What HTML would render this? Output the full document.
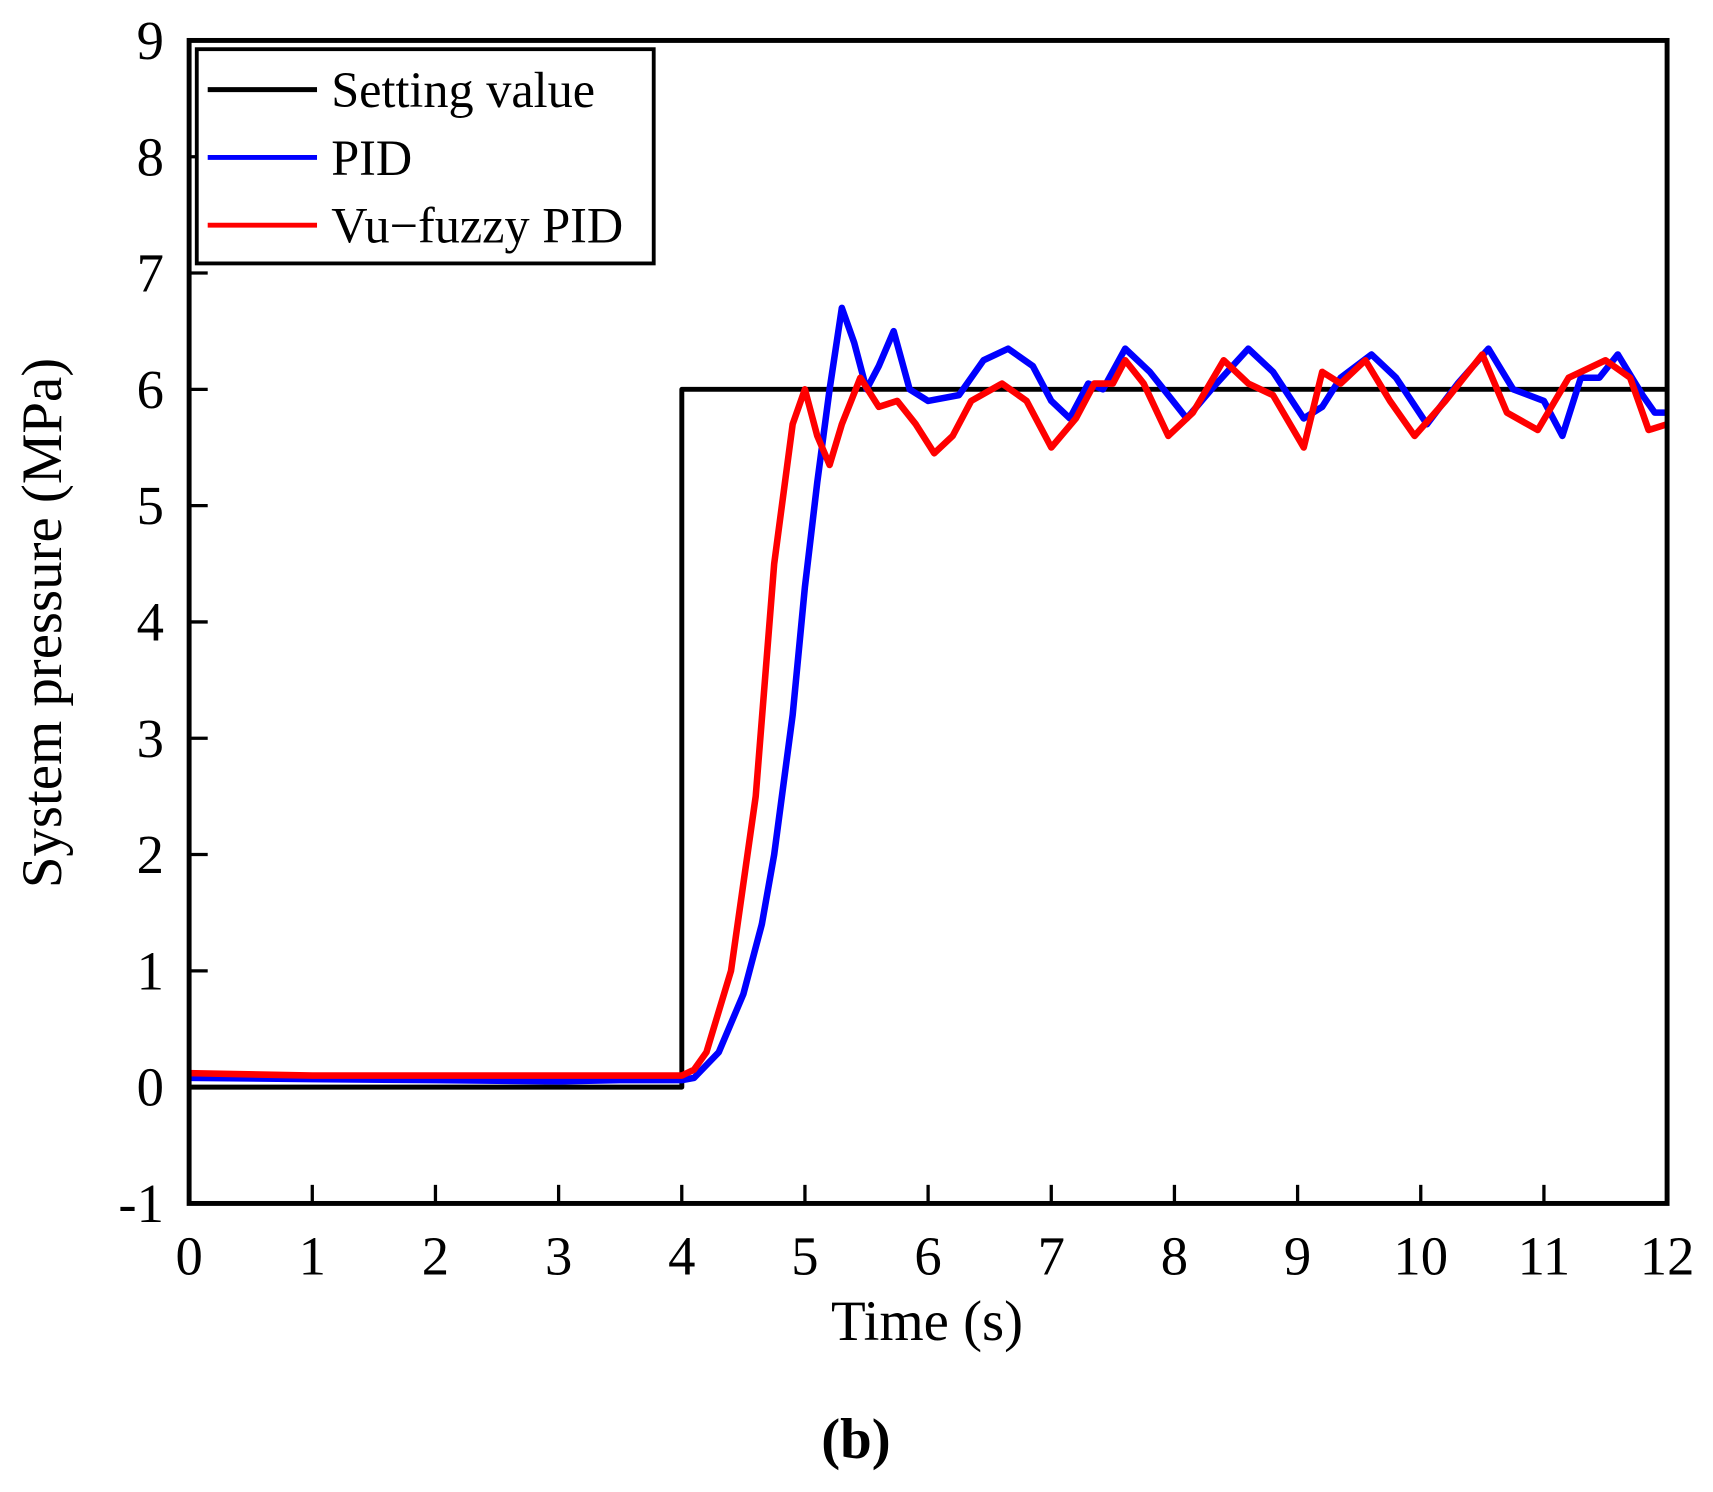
<!DOCTYPE html>
<html><head><meta charset="utf-8"><style>
html,body{margin:0;padding:0;background:#fff;}
svg{display:block;}
text{font-family:"Liberation Serif",serif;fill:#000;}
</style></head><body>
<svg id="chart" width="1713" height="1492" viewBox="0 0 1567 1365" preserveAspectRatio="none" xmlns="http://www.w3.org/2000/svg">
<g id="marks"></g>
<rect x="173" y="37" width="1352" height="1064" fill="none" stroke="#000" stroke-width="4.5"/>
<g id="ticks"></g>
<text transform="translate(56,570) rotate(-90)" text-anchor="middle" font-size="52">System pressure (MPa)</text>
<text x="848" y="1226" text-anchor="middle" font-size="52">Time (s)</text>
<text x="783" y="1334" text-anchor="middle" font-size="52" font-weight="bold">(b)</text>
<g>
<rect x="180" y="45" width="418" height="196" fill="#fff" stroke="#000" stroke-width="3.5"/>
<line x1="190" y1="82" x2="290" y2="82" stroke="#000" stroke-width="4.5"/>
<text x="303" y="98" font-size="46">Setting value</text>
<line x1="190" y1="144" x2="290" y2="144" stroke="#0000ff" stroke-width="4.5"/>
<text x="303" y="160" font-size="46">PID</text>
<line x1="190" y1="206" x2="290" y2="206" stroke="#ff0000" stroke-width="4.5"/>
<text x="303" y="222" font-size="46">Vu−fuzzy PID</text>
</g>
</svg>
<script>
const xTicks=[0,1,2,3,4,5,6,7,8,9,10,11,12];
const yTicks=[-1,0,1,2,3,4,5,6,7,8,9];
const setT=[0,4,4,12];
const setV=[0,0,6,6];
const pidT=[0,1,2,3,3.5,4,4.1,4.3,4.5,4.65,4.75,4.9,5.0,5.1,5.2,5.3,5.4,5.5,5.6,5.72,5.85,6.0,6.25,6.45,6.65,6.85,7.0,7.15,7.3,7.42,7.6,7.8,8.1,8.3,8.6,8.8,9.05,9.2,9.35,9.6,9.8,10.05,10.3,10.55,10.75,11.0,11.15,11.3,11.45,11.6,11.8,11.9,12];
const pidV=[0.08,0.07,0.06,0.05,0.06,0.06,0.08,0.3,0.8,1.4,2.0,3.2,4.3,5.2,6.0,6.7,6.4,6.0,6.2,6.5,6.0,5.9,5.95,6.25,6.35,6.2,5.9,5.75,6.05,6.0,6.35,6.15,5.75,6.0,6.35,6.15,5.75,5.85,6.1,6.3,6.1,5.7,6.05,6.35,6.0,5.9,5.6,6.1,6.1,6.3,5.95,5.8,5.8];
const fuzT=[0,1,2,3,3.5,4,4.1,4.2,4.4,4.6,4.75,4.9,5.0,5.1,5.2,5.3,5.45,5.6,5.75,5.9,6.05,6.2,6.35,6.6,6.8,7.0,7.2,7.35,7.5,7.6,7.75,7.95,8.15,8.4,8.6,8.8,9.05,9.2,9.35,9.55,9.75,9.95,10.2,10.5,10.7,10.95,11.2,11.5,11.7,11.85,12];
const fuzV=[0.12,0.1,0.1,0.1,0.1,0.1,0.15,0.3,1.0,2.5,4.5,5.7,6.0,5.6,5.35,5.7,6.1,5.85,5.9,5.7,5.45,5.6,5.9,6.05,5.9,5.5,5.75,6.05,6.05,6.25,6.05,5.6,5.8,6.25,6.05,5.95,5.5,6.15,6.05,6.25,5.9,5.6,5.9,6.3,5.8,5.65,6.1,6.25,6.1,5.65,5.7];
const X0=173,X1=1525,Y0=1101,Y1=37;
const sx=t=>X0+(t-0)/12*(X1-X0);
const sy=v=>Y0-(v+1)/10*(Y0-Y1);
const NS="http://www.w3.org/2000/svg";
const marks=document.getElementById('marks'),ticks=document.getElementById('ticks');
function series(T,V,color,name,w){
  const p=document.createElementNS(NS,'polyline');
  p.setAttribute('points',T.map((t,i)=>sx(t).toFixed(1)+','+sy(V[i]).toFixed(1)).join(' '));
  p.setAttribute('fill','none');p.setAttribute('stroke',color);p.setAttribute('stroke-width',w);p.setAttribute('stroke-linejoin','round');
  
  
  marks.appendChild(p);
}
series(setT,setV,'#000','setting-value-line',4.5);
series(pidT,pidV,'#0000ff','pid-line',6);
series(fuzT,fuzV,'#ff0000','fuzzy-pid-line',6);
xTicks.forEach(t=>{
  const l=document.createElementNS(NS,'line');
  l.setAttribute('x1',sx(t));l.setAttribute('x2',sx(t));l.setAttribute('y1',Y0);l.setAttribute('y2',Y0-17);l.setAttribute('stroke','#000');l.setAttribute('stroke-width',3);
  
  
  ticks.appendChild(l);
  const tx=document.createElementNS(NS,'text');
  tx.setAttribute('x',sx(t));tx.setAttribute('y',1166);tx.setAttribute('text-anchor','middle');tx.setAttribute('font-size','50');
  tx.textContent=t;
  
  
  ticks.appendChild(tx);
});
yTicks.forEach(v=>{
  const l=document.createElementNS(NS,'line');
  l.setAttribute('x1',X0);l.setAttribute('x2',X0+17);l.setAttribute('y1',sy(v));l.setAttribute('y2',sy(v));l.setAttribute('stroke','#000');l.setAttribute('stroke-width',3);
  
  
  ticks.appendChild(l);
  const tx=document.createElementNS(NS,'text');
  tx.setAttribute('x',150);tx.setAttribute('y',sy(v)+17);tx.setAttribute('text-anchor','end');tx.setAttribute('font-size','50');
  tx.textContent=v;
  
  
  ticks.appendChild(tx);
});
</script>
</body></html>
